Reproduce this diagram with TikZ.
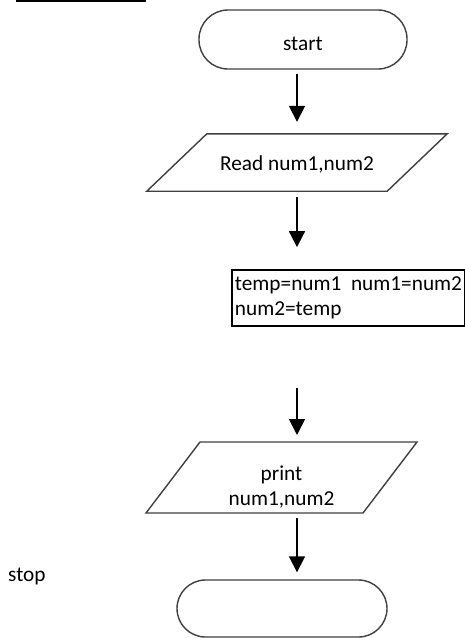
\documentclass[tikz,border=0pt]{standalone}
\usepackage{fontspec}
\setmainfont{Carlito}
\usetikzlibrary{arrows.meta,calc}
\begin{document}
\begin{tikzpicture}[x=1pt,y=-1pt,
  every node/.style={font=\fontsize{21.3}{25.5}\selectfont, inner sep=0pt},
  term/.style={draw=black!75, line width=1.4pt, rounded corners=29pt, minimum width=208pt, minimum height=59pt},
  io/.style={draw=black!75, line width=1.4pt},
  procbox/.style={draw=black, line width=1.8pt, align=left, inner xsep=3pt, minimum width=231pt, minimum height=56pt},
  arr/.style={line width=1.8pt, -{Triangle[length=16pt,width=16pt]}}
]
\useasboundingbox (0,0) rectangle (465,638);
\fill[white] (0,0) rectangle (465,638);
\draw[line width=1.6pt] (16,0.8) -- (146,0.8);

\coordinate (ax) at (297,0);

\node[term, text height=24pt, text depth=3pt] (start) at (303,39.5) {start};

\node[minimum width=240pt, minimum height=57pt, text height=18pt, text depth=3pt] (read) at (297,162.5) {Read num1,num2};
\draw[io] ($(read.north west)+(30,0)$) -- ($(read.north east)+(30,0)$) -- ($(read.south east)+(-30,0)$) -- ($(read.south west)+(-30,0)$) -- cycle;

\node[procbox] (swap) at (348.5,298) {temp=num1\ \ num1=num2\\num2=temp};

\node[align=center] (print) at (281.5,487) {print\\num1,num2};
\draw[io] ($(print.center)+(-81.5,-45)$) -- ($(print.center)+(135.5,-45)$) -- ($(print.center)+(81.5,26)$) -- ($(print.center)+(-135.5,26)$) -- cycle;
\coordinate (printtop) at ($(print.center)+(0,-45)$);
\coordinate (printbot) at ($(print.center)+(0,26)$);

\node[term, minimum width=210pt, minimum height=57pt, rounded corners=28.5pt] (stop) at (282,608.5) {};
\node[anchor=base west] (stoplabel) at (8,581) {stop};

\draw[arr, shorten <=4pt, shorten >=12pt] (start.south -| ax) -- (read.north -| ax);
\draw[arr, shorten <=6pt, shorten >=22pt] (read.south -| ax) -- (swap.north -| ax);
\draw[arr, shorten <=61pt, shorten >=7pt] (swap.south -| ax) -- (printtop -| ax);
\draw[arr, shorten <=5pt, shorten >=7pt] (printbot -| ax) -- (stop.north -| ax);
\end{tikzpicture}
\end{document}
